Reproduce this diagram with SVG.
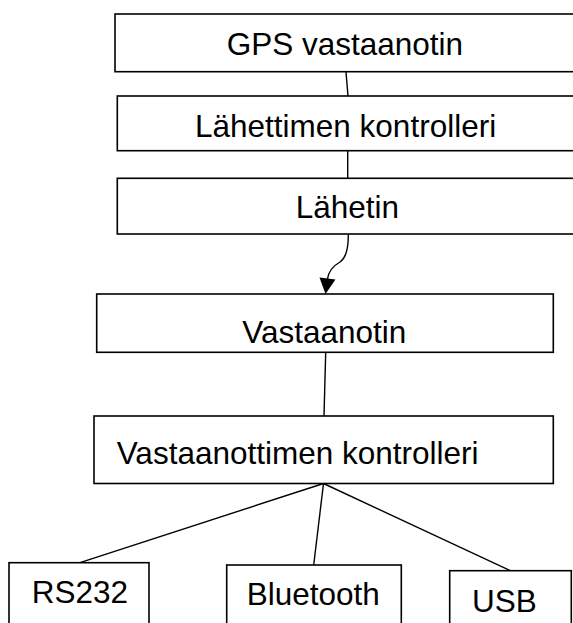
<svg xmlns="http://www.w3.org/2000/svg" width="573" height="623" viewBox="0 0 573 623">
<style>
.box{fill:#fff;stroke:#000;stroke-width:1.6}
.lbl{font-family:"Liberation Sans",Arial,sans-serif;font-size:31.5px;fill:#000}
.con{fill:none;stroke:#000;stroke-width:1.4}
</style>
<rect width="573" height="623" fill="#fff"/>
<g id="connectors">
<line class="con" x1="346" y1="72" x2="348" y2="96"/>
<line class="con" x1="347.7" y1="150.7" x2="347.7" y2="178.3"/>
<path class="con" d="M348.3,234 C348.5,250 346,258 340,262 C333,266 328.5,271 327.5,279" stroke-width="2"/>
<polygon points="319.5,277.5 335.5,279.5 325.5,294" fill="#000"/>
<line class="con" x1="325.7" y1="352.3" x2="324" y2="416"/>
<line class="con" x1="323.5" y1="483.5" x2="80" y2="562.7"/>
<line class="con" x1="323.5" y1="483.5" x2="313.7" y2="565"/>
<line class="con" x1="323.5" y1="483.5" x2="510.3" y2="570.7"/>
</g>
<g id="gps"><rect class="box" x="115" y="14" width="462" height="57.7"/><text class="lbl" x="226.7" y="55">GPS vastaanotin</text></g>
<g id="lahettimen-kontrolleri"><rect class="box" x="117.3" y="96" width="462" height="54.7"/><text class="lbl" x="195" y="136.7">Lähettimen kontrolleri</text></g>
<g id="lahetin"><rect class="box" x="117.3" y="178.3" width="462" height="55.7"/><text class="lbl" x="295.7" y="218.3">Lähetin</text></g>
<g id="vastaanotin"><rect class="box" x="96.7" y="294" width="456.6" height="58.3"/><text class="lbl" x="242.3" y="343.3">Vastaanotin</text></g>
<g id="vastaanottimen-kontrolleri"><rect class="box" x="94" y="416" width="459.3" height="67.5"/><text class="lbl" x="116.7" y="464.3">Vastaanottimen kontrolleri</text></g>
<g id="rs232"><rect class="box" x="9" y="562.7" width="140" height="80"/><text class="lbl" x="31.7" y="603.3">RS232</text></g>
<g id="bluetooth"><rect class="box" x="226.7" y="565" width="174.6" height="80"/><text class="lbl" x="246.7" y="605">Bluetooth</text></g>
<g id="usb"><rect class="box" x="449.7" y="570.7" width="121.6" height="80"/><text class="lbl" x="472" y="611.7">USB</text></g>
</svg>
